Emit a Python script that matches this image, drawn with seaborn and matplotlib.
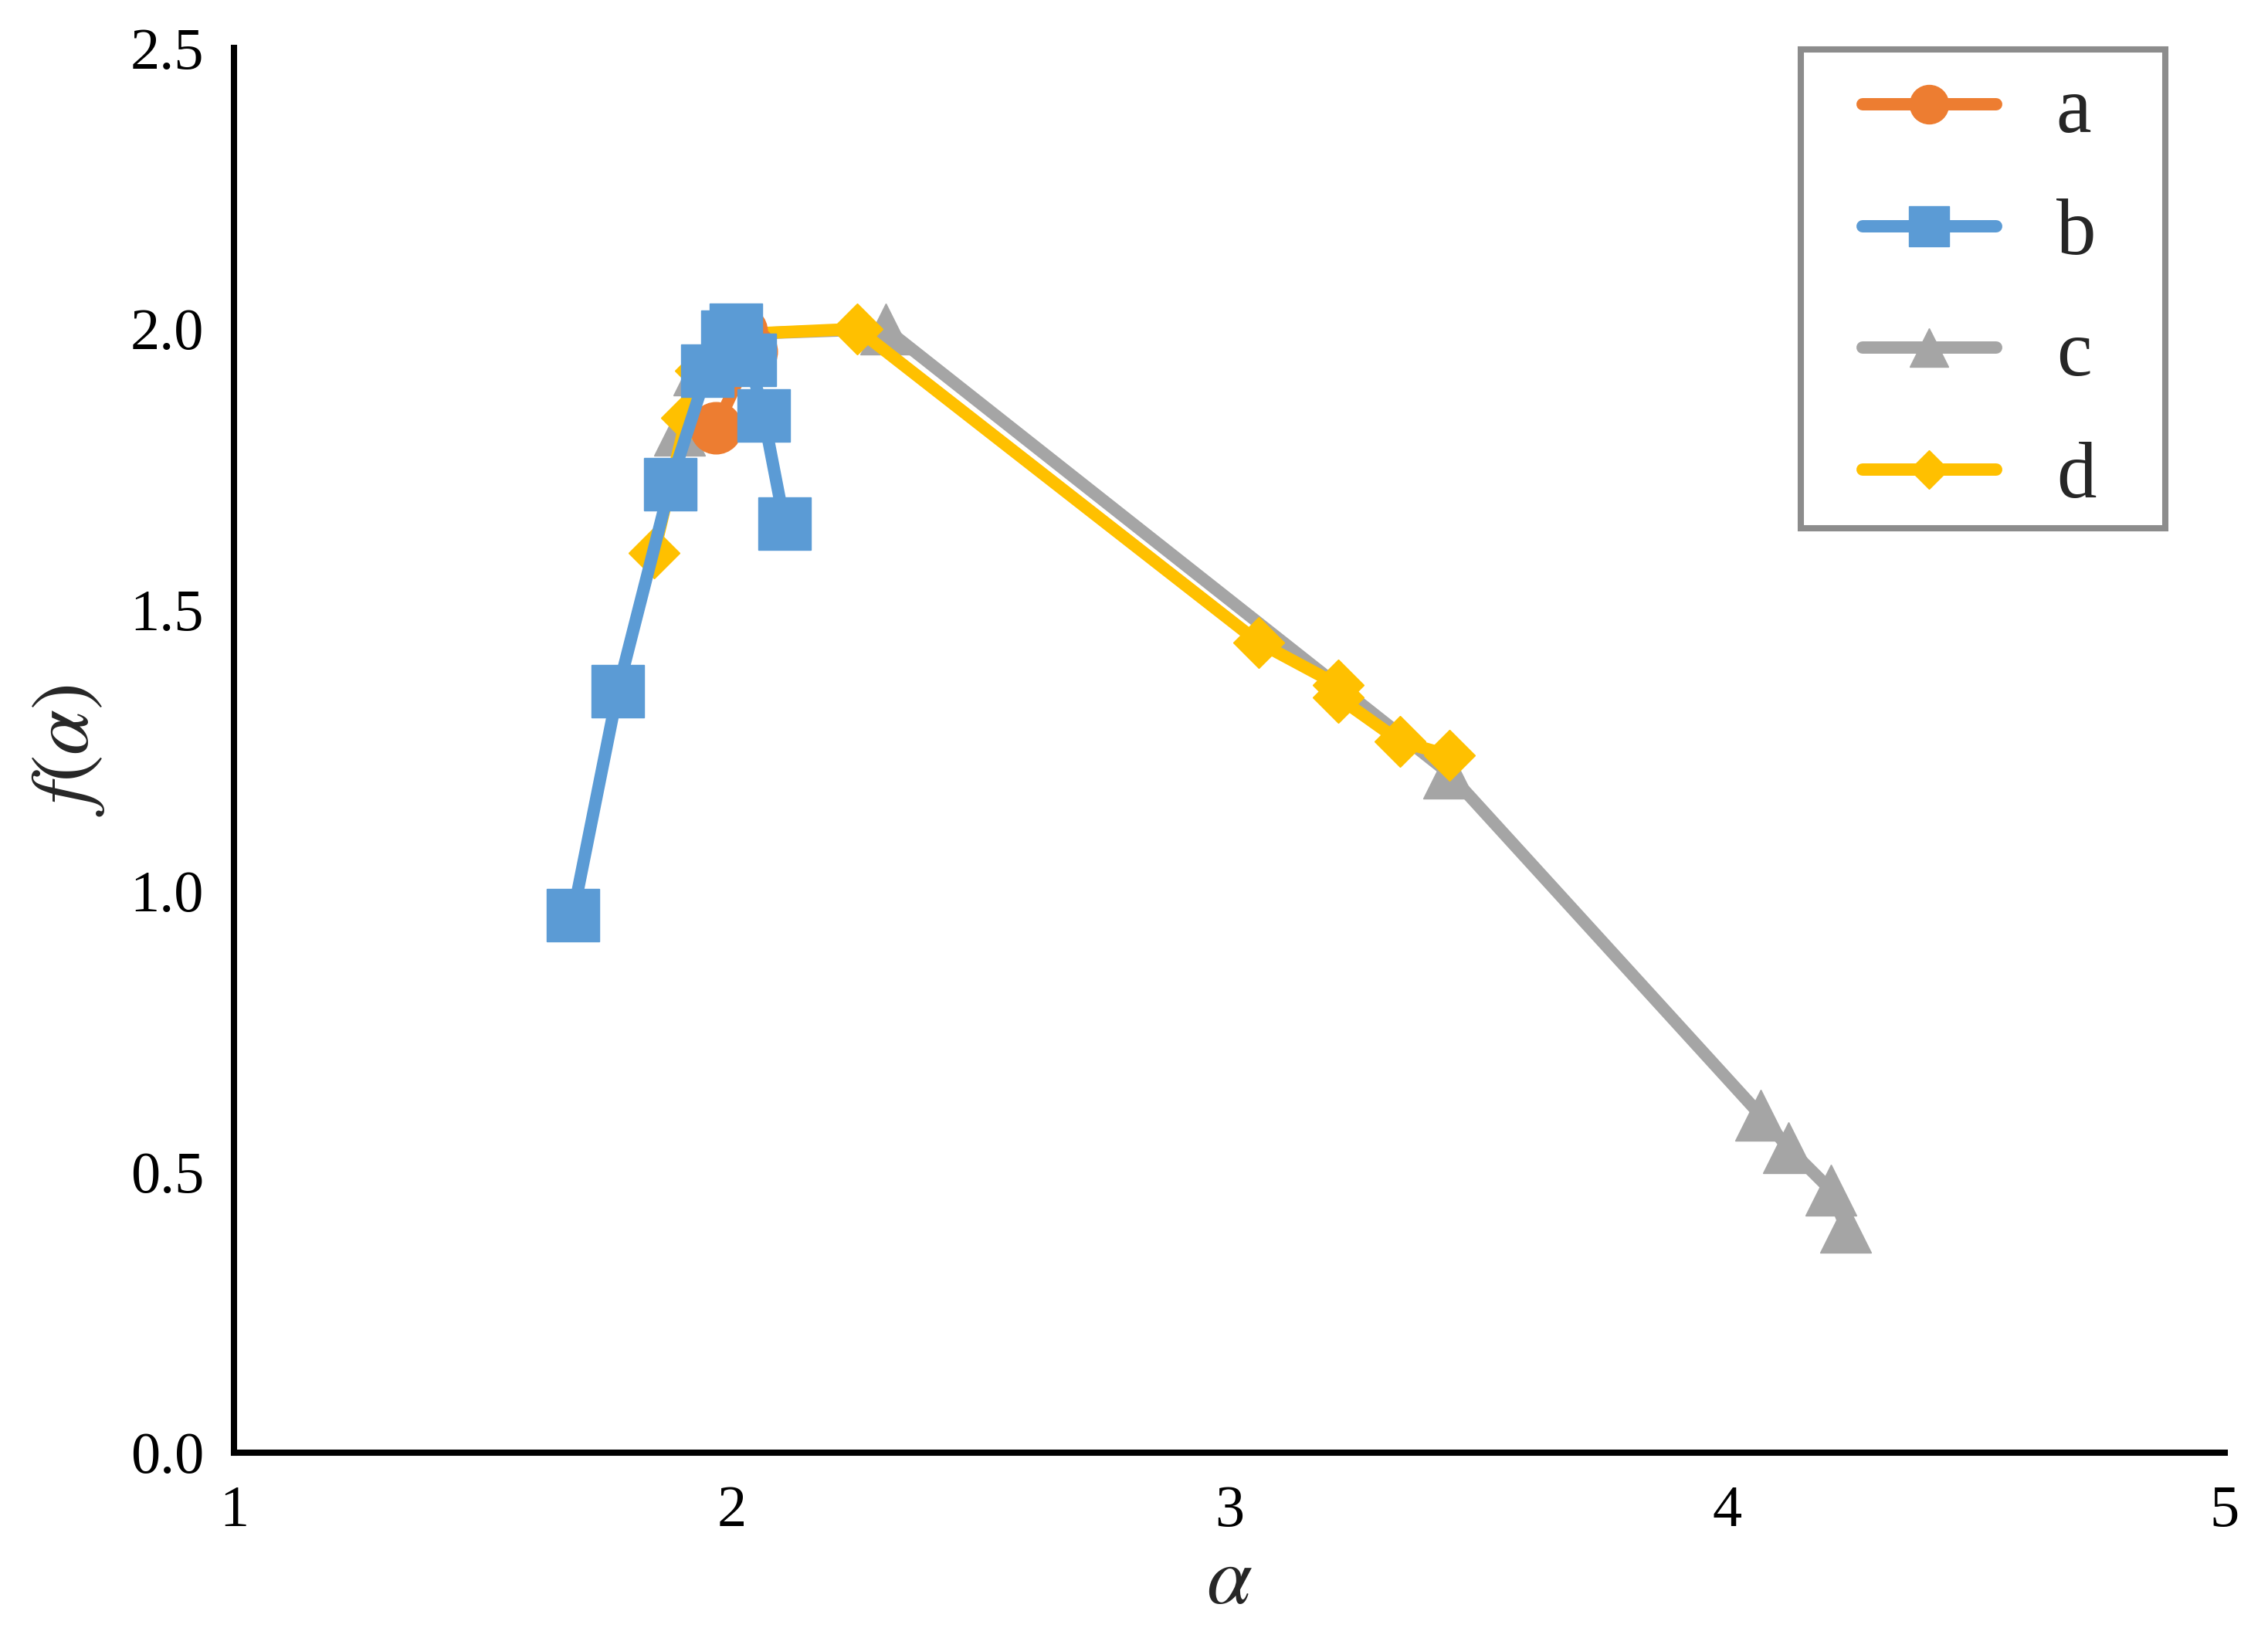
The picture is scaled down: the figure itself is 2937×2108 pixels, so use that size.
import matplotlib
matplotlib.use("Agg")
import matplotlib.pyplot as plt
from matplotlib.patches import Rectangle
import seaborn as sns
import pandas as pd

# ---- data ----
a_alpha = [1.968, 2.04, 2.02, 1.995]
a_f = [1.824, 1.96, 1.995, 1.98]

b_alpha = [1.681, 1.771, 1.877, 1.951, 1.991, 2.009, 2.036, 2.064, 2.106]
b_f = [0.957, 1.355, 1.724, 1.926, 1.986, 1.999, 1.945, 1.846, 1.654]

c_alpha = [1.895, 1.934, 1.99, 2.31, 3.44, 4.068, 4.123, 4.209, 4.238]
c_f = [1.82, 1.927, 1.99, 2.0, 1.21, 0.600, 0.543, 0.467, 0.402]

d_alpha = [1.844, 1.909, 1.937, 2.0, 2.252, 3.059, 3.219, 3.219, 3.343, 3.442]
d_f = [1.601, 1.841, 1.925, 1.99, 2.0, 1.442, 1.366, 1.344, 1.266, 1.241]

labels = ["a", "b", "c", "d"]
x_ticks = [1, 2, 3, 4, 5]
y_ticks = [0.0, 0.5, 1.0, 1.5, 2.0, 2.5]

series = {
    "a": (a_alpha, a_f),
    "b": (b_alpha, b_f),
    "c": (c_alpha, c_f),
    "d": (d_alpha, d_f),
}
colors = {"a": "#ED7D31", "b": "#5B9BD5", "c": "#A5A5A5", "d": "#FFC000"}
markers = {"a": "o", "b": "s", "c": "^", "d": "D"}
msizes = {"a": 48, "b": 49, "c": 48, "d": 34}
draw_order = ["c", "d", "a", "b"]

sns.set_style("white")
plt.rcParams["font.family"] = ["Liberation Serif", "DejaVu Serif"]
plt.rcParams["mathtext.fontset"] = "stix"

W, H = 2937, 2108
fig = plt.figure(figsize=(W / 100, H / 100), dpi=100)
ax = fig.add_axes([303 / W, 1 - 1881 / H, (2881 - 303) / W, (1881 - 62) / H])

for z, key in enumerate(draw_order):
    xs, ys = series[key]
    df = pd.DataFrame({"alpha": xs, "f": ys})
    sns.lineplot(
        data=df, x="alpha", y="f", sort=False, estimator=None, ax=ax,
        color=colors[key], marker=markers[key], markersize=msizes[key],
        markeredgecolor=colors[key], markeredgewidth=1.0, linewidth=11.5,
        solid_capstyle="round", solid_joinstyle="round", label=key,
        zorder=3 + z,
    )

ax.set_xlim(1, 5)
ax.set_ylim(0, 2.5)
ax.set_xticks(x_ticks)
ax.set_xticklabels([str(t) for t in x_ticks])
ax.set_yticks(y_ticks)
ax.set_yticklabels([f"{t:.1f}" for t in y_ticks])

for s in ["top", "right"]:
    ax.spines[s].set_visible(False)
for s in ["left", "bottom"]:
    ax.spines[s].set_linewidth(5.8)
    ax.spines[s].set_color("black")

ax.tick_params(axis="both", direction="in", length=19.5, width=2.2,
               labelsize=55, colors="black")
ax.tick_params(axis="x", pad=30)
ax.tick_params(axis="y", pad=28)

ax.set_xlabel(r"$\alpha$", fontsize=76, labelpad=8)
ax.set_ylabel(r"$f(\alpha)$", fontsize=76, labelpad=22)

handles, labs = ax.get_legend_handles_labels()
hmap = dict(zip(labs, handles))
leg = ax.legend(
    [hmap[l] for l in labels], labels, loc="upper left",
    bbox_to_anchor=(2412 / W, 1 - 99 / H), bbox_transform=fig.transFigure,
    borderaxespad=0, borderpad=0, fontsize=74, frameon=False,
    markerscale=0.75, handlelength=1.68, handletextpad=0.76,
    labelspacing=0.62, numpoints=1,
)

# legend frame
fig.add_artist(Rectangle((2332 / W, 1 - 684 / H), 472 / W, 620 / H,
                         transform=fig.transFigure, fill=False,
                         edgecolor="#8C8C8C", linewidth=5.8))

fig.savefig("out.png", dpi=100)
